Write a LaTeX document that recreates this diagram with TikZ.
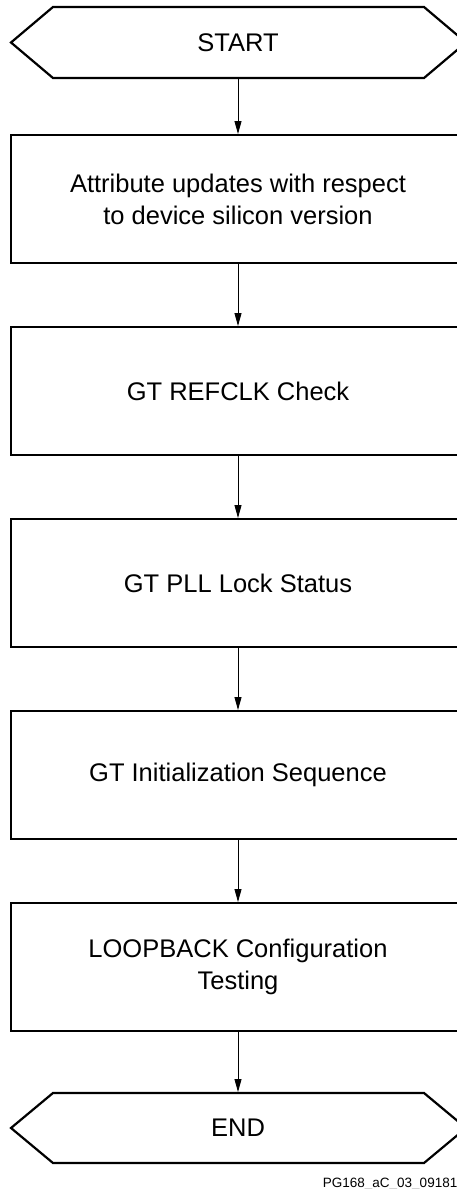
\documentclass[tikz,border=0pt]{standalone}
\usepackage{fontspec}
\setmainfont{Liberation Sans}
\usetikzlibrary{arrows.meta}
\begin{document}
\begin{tikzpicture}[x=1pt,y=-1pt,
  boxline/.style={line width=2.2pt},
  flow/.style={line width=0.9pt,-{Triangle[length=13pt,width=7pt]}},
  lbl/.style={font=\fontsize{25.5}{32}\selectfont,align=center,inner sep=0pt}]
\useasboundingbox (0,0) rectangle (457,1189);
\clip (0,0) rectangle (457,1189);
% START terminator
\draw[boxline,line join=miter] (11,42.5) -- (53,7) -- (424,7) -- (466,42.5) -- (424,78) -- (53,78) -- cycle;
\node[lbl] (start) at (238,42.5) {START};
\coordinate (startb) at (238,78);
% process boxes
\draw[boxline] (11,135) rectangle (466,263);
\node[lbl] (b1) at (238,199) {Attribute updates with respect\\to device silicon version};
\draw[boxline] (11,327) rectangle (466,455);
\node[lbl] (b2) at (238,391) {GT REFCLK Check};
\draw[boxline] (11,519) rectangle (466,647);
\node[lbl] (b3) at (238,583) {GT PLL Lock Status};
\draw[boxline] (11,711) rectangle (466,839);
\node[lbl] (b4) at (238,775) {GT Initialization Sequence};
\draw[boxline] (11,903) rectangle (466,1031);
\node[lbl] (b5) at (238,967) {LOOPBACK Configuration\\Testing};
% END terminator
\draw[boxline,line join=miter] (11,1128) -- (53,1093) -- (424,1093) -- (466,1128) -- (424,1163) -- (53,1163) -- cycle;
\node[lbl] (end) at (238,1128) {END};
% connector anchor points
\coordinate (t1) at (238,134); \coordinate (o1) at (238,264);
\coordinate (t2) at (238,326); \coordinate (o2) at (238,456);
\coordinate (t3) at (238,518); \coordinate (o3) at (238,648);
\coordinate (t4) at (238,710); \coordinate (o4) at (238,840);
\coordinate (t5) at (238,902); \coordinate (o5) at (238,1032);
\coordinate (te) at (238,1092);
\draw[flow] (startb) -- (t1);
\draw[flow] (o1) -- (t2);
\draw[flow] (o2) -- (t3);
\draw[flow] (o3) -- (t4);
\draw[flow] (o4) -- (t5);
\draw[flow] (o5) -- (te);
\node[font=\fontsize{13.5}{16}\selectfont,anchor=base east,inner sep=0pt] (fig) at (457.5,1187) {PG168\_aC\_03\_09181};
\end{tikzpicture}
\end{document}
